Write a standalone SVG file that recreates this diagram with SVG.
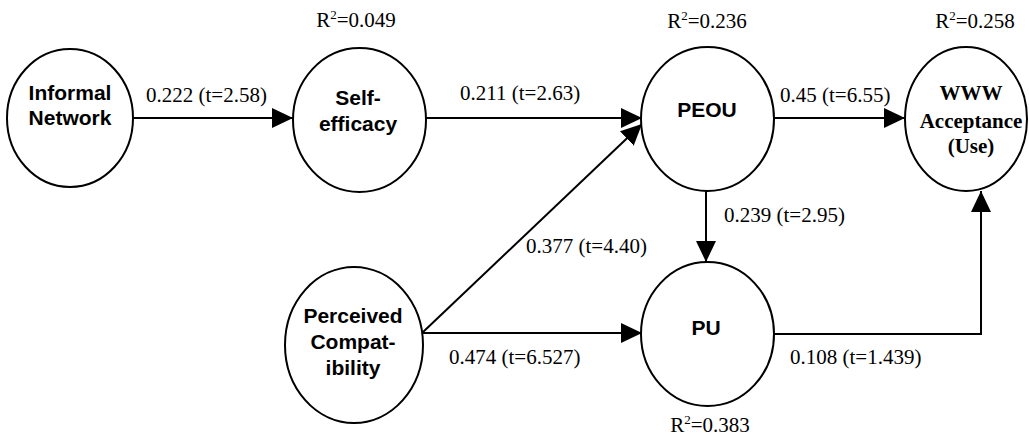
<svg xmlns="http://www.w3.org/2000/svg" width="1029" height="441" viewBox="0 0 1029 441">
<style>
.node ellipse{fill:#fff;stroke:#000;stroke-width:2}
.lbl{font-family:"Liberation Sans",Arial,sans-serif;font-weight:bold;font-size:21px;text-anchor:middle;fill:#000}
.lblt{font-family:"Liberation Serif","Times New Roman",serif;font-weight:bold;font-size:21px;text-anchor:middle;fill:#000}
.num{font-family:"Liberation Serif","Times New Roman",serif;font-size:21px;fill:#000}
.r2{font-family:"Liberation Serif","Times New Roman",serif;font-size:21px;text-anchor:middle;fill:#000}
.sup{font-size:13px}
#connectors path,#connectors line{stroke:#000;stroke-width:2;fill:none}
</style>
<defs>
<marker id="arr" markerUnits="userSpaceOnUse" markerWidth="22" markerHeight="20" refX="21" refY="10" orient="auto">
<path d="M0,0 L21,10 L0,20 z" fill="#000"/>
</marker>
</defs>
<rect width="1029" height="441" fill="#fff"/>
<g id="connectors">
<line x1="133" y1="118" x2="293" y2="118" marker-end="url(#arr)"/>
<line x1="426" y1="118" x2="642" y2="118" marker-end="url(#arr)"/>
<line x1="422" y1="333" x2="642" y2="124" marker-end="url(#arr)"/>
<line x1="774" y1="118" x2="905" y2="118" marker-end="url(#arr)"/>
<line x1="706" y1="191" x2="706" y2="262" marker-end="url(#arr)"/>
<line x1="422" y1="333" x2="642" y2="333" marker-end="url(#arr)"/>
<path d="M774,334 H981 V191" marker-end="url(#arr)"/>
</g>
<g id="edge-labels" font-family="'Liberation Serif', 'Times New Roman', serif" font-size="21">
<text class="num" x="146" y="102">0.222 (t=2.58)</text>
<text class="num" x="460" y="100">0.211 (t=2.63)</text>
<text class="num" x="526" y="253">0.377 (t=4.40)</text>
<text class="num" x="780" y="102">0.45 (t=6.55)</text>
<text class="num" x="724" y="222">0.239 (t=2.95)</text>
<text class="num" x="449" y="364">0.474 (t=6.527)</text>
<text class="num" x="790" y="364">0.108 (t=1.439)</text>
</g>
<g id="informal-network" class="node">
<ellipse cx="70" cy="118" rx="63" ry="69"/>
<text class="lbl" x="70" y="100">Informal</text>
<text class="lbl" x="70" y="125">Network</text>
</g>
<g id="self-efficacy" class="node">
<ellipse cx="359.5" cy="120" rx="66.5" ry="72"/>
<text class="lbl" x="358" y="105">Self-</text>
<text class="lbl" x="358" y="131">efficacy</text>
<text class="r2" x="356" y="27">R<tspan class="sup" dy="-8">2</tspan><tspan dy="8">=0.049</tspan></text>
</g>
<g id="peou" class="node">
<ellipse cx="707.5" cy="119" rx="66.5" ry="72"/>
<text class="lbl" x="707" y="117">PEOU</text>
<text class="r2" x="707" y="28">R<tspan class="sup" dy="-8">2</tspan><tspan dy="8">=0.236</tspan></text>
</g>
<g id="www-acceptance" class="node">
<ellipse cx="966" cy="119" rx="61" ry="72"/>
<text class="lblt" x="971" y="100">WWW</text>
<text class="lblt" x="971" y="128">Acceptance</text>
<text class="lblt" x="971" y="153">(Use)</text>
<text class="r2" x="975" y="28">R<tspan class="sup" dy="-8">2</tspan><tspan dy="8">=0.258</tspan></text>
</g>
<g id="perceived-compatibility" class="node">
<ellipse cx="354" cy="345" rx="69" ry="78"/>
<text class="lbl" x="353" y="323">Perceived</text>
<text class="lbl" x="353" y="349">Compat-</text>
<text class="lbl" x="353" y="375">ibility</text>
</g>
<g id="pu" class="node">
<ellipse cx="707.5" cy="334" rx="66.5" ry="72"/>
<text class="lbl" x="706" y="335">PU</text>
<text class="r2" x="710" y="432">R<tspan class="sup" dy="-8">2</tspan><tspan dy="8">=0.383</tspan></text>
</g>
</svg>
